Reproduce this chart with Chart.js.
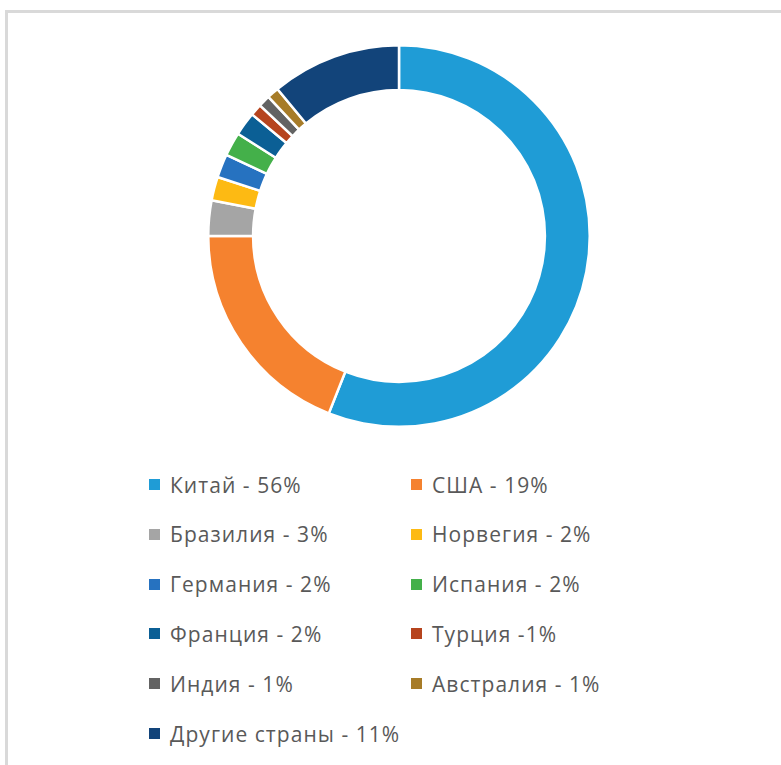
<!DOCTYPE html>
<html>
<head>
<meta charset="utf-8">
<script src="https://cdn.jsdelivr.net/npm/chart.js@4.4.1/dist/chart.umd.min.js"></script>
<style>
  html, body { margin: 0; padding: 0; background: #fff; }
  body { width: 781px; height: 765px; position: relative; overflow: hidden; }
  #frame { position: absolute; left: 5px; top: 10px; width: 790px; height: 770px;
           border-top: 3px solid #d9d9d9; border-left: 3px solid #d9d9d9; box-sizing: border-box; }
  #chartBox { position: absolute; left: 197px; top: 34px; width: 404px; height: 404px; }
  .item { position: absolute; height: 28px; display: flex; align-items: center;
          font-family: "Open Sans", sans-serif; font-size: 21px; letter-spacing: 1.05px; color: #595959; white-space: nowrap; }
  .sw { width: 11px; height: 11px; margin-right: 10px; flex: none; }
</style>
</head>
<body>
<div id="frame"></div>
<div id="chartBox"><canvas id="c"></canvas></div>
<div id="legend"></div>
<script>
const categories = ["Китай", "США", "Бразилия", "Норвегия", "Германия", "Испания", "Франция", "Турция", "Индия", "Австралия", "Другие страны"];
const shares = [56, 19, 3, 2, 2, 2, 2, 1, 1, 1, 11];
const legendLabels = ["Китай - 56%", "США - 19%", "Бразилия - 3%", "Норвегия - 2%", "Германия - 2%", "Испания - 2%", "Франция - 2%", "Турция -1%", "Индия - 1%", "Австралия - 1%", "Другие страны - 11%"];
const colors = ["#1f9cd6", "#f5822f", "#a5a5a5", "#fdba13", "#2672c0", "#44b04a", "#0b5f95", "#b6441e", "#636363", "#a77c28", "#12447a"];

new Chart(document.getElementById('c'), {
  type: 'doughnut',
  data: {
    labels: categories,
    datasets: [{ data: shares, backgroundColor: colors, borderColor: '#ffffff', borderWidth: 2.5 }]
  },
  options: {
    responsive: true,
    maintainAspectRatio: false,
    animation: false,
    cutout: '76.5%',
    layout: { padding: 10 },
    events: [],
    plugins: { legend: { display: false }, tooltip: { enabled: false } }
  }
});

const legend = document.getElementById('legend');
legendLabels.forEach((txt, i) => {
  const col = i % 2, row = Math.floor(i / 2);
  const d = document.createElement('div');
  d.className = 'item';
  d.style.left = (col === 0 ? 149 : 411) + 'px';
  d.style.top = (470.5 + row * 49.8) + 'px';
  d.innerHTML = '<span class="sw" style="background:' + colors[i] + '"></span><span>' + txt + '</span>';
  legend.appendChild(d);
});
</script>
</body>
</html>
